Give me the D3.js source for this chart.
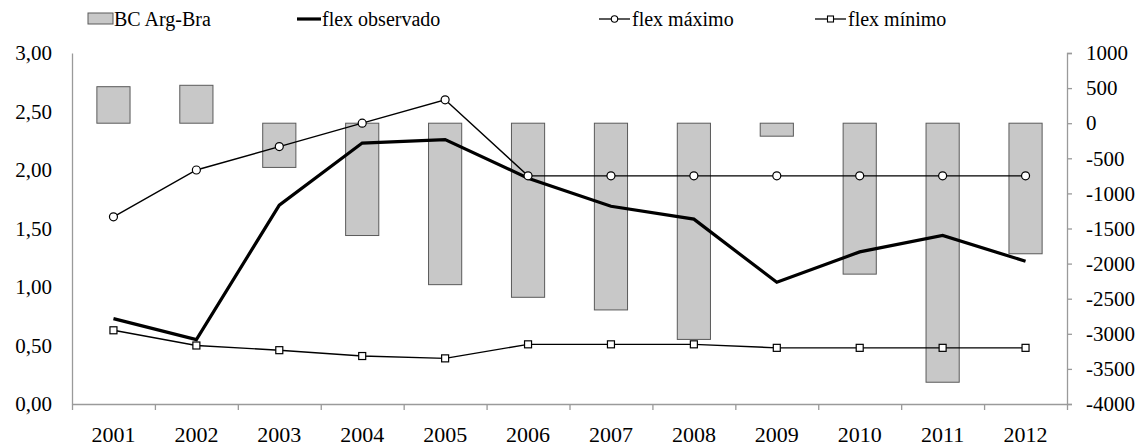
<!DOCTYPE html>
<html>
<head>
<meta charset="utf-8">
<script src="https://cdn.jsdelivr.net/npm/d3@7"></script>
<style>
  body { margin: 0; background: #fff; }
  svg text { font-family: "Liberation Serif", "Times New Roman", serif; font-size: 20px; fill: #000; }
</style>
</head>
<body>
<svg width="1145" height="446"></svg>
<script>
// chart data
var years = ["2001", "2002", "2003", "2004", "2005", "2006", "2007", "2008", "2009", "2010", "2011", "2012"];
var bcArgBra = [520, 540, -630, -1600, -2300, -2480, -2660, -3080, -185, -2150, -3690, -1860];
var flexObservado = [0.73, 0.55, 1.70, 2.23, 2.26, 1.93, 1.69, 1.58, 1.04, 1.30, 1.44, 1.22];
var flexMaximo = [1.60, 2.00, 2.20, 2.40, 2.60, 1.95, 1.95, 1.95, 1.95, 1.95, 1.95, 1.95];
var flexMinimo = [0.63, 0.50, 0.46, 0.41, 0.39, 0.51, 0.51, 0.51, 0.48, 0.48, 0.48, 0.48];
var leftTicks = [0, 0.5, 1, 1.5, 2, 2.5, 3];
var rightTicks = [-4000, -3500, -3000, -2500, -2000, -1500, -1000, -500, 0, 500, 1000];
var legendLabels = ["BC Arg-Bra", "flex observado", "flex máximo", "flex mínimo"];

var svg = d3.select("svg");
var plotLeft = 72, plotRight = 1067, plotTop = 53, plotBottom = 404;

var x = d3.scaleBand().domain(years).range([plotLeft, plotRight]);
var xi = d3.scaleLinear().domain([0, years.length]).range([plotLeft, plotRight]);
var yL = d3.scaleLinear().domain([0, 3]).range([plotBottom, plotTop]);
var yR = d3.scaleLinear().domain([-4000, 1000]).range([plotBottom, plotTop]);
var axisColor = "#9a9a9a";

// bars (right axis)
var barW = x.bandwidth() * 0.4;
svg.append("g").selectAll("rect")
  .data(bcArgBra)
  .enter().append("rect")
  .attr("x", function(d, i) { return x(years[i]) + (x.bandwidth() - barW) / 2; })
  .attr("y", function(d) { return yR(Math.max(0, d)); })
  .attr("width", barW)
  .attr("height", function(d) { return Math.abs(yR(d) - yR(0)); })
  .attr("fill", "#c8c8c8")
  .attr("stroke", "#5a5a5a")
  .attr("stroke-width", 1);

// axes
var gL = svg.append("g")
  .attr("transform", "translate(" + plotLeft + ",0)")
  .call(d3.axisLeft(yL).tickValues(leftTicks).tickSize(0).tickPadding(20)
    .tickFormat(function(d) { return d3.format(".2f")(d).replace(".", ","); }));
var gR = svg.append("g")
  .attr("transform", "translate(" + plotRight + ",0)")
  .call(d3.axisRight(yR).tickValues(rightTicks).tickSize(5).tickPadding(14)
    .tickFormat(function(d) { return String(d); }));
var gB = svg.append("g")
  .attr("transform", "translate(0," + plotBottom + ")")
  .call(d3.axisBottom(x).tickSize(0).tickPadding(22));
var gT = svg.append("g")
  .attr("transform", "translate(0," + plotBottom + ")")
  .call(d3.axisBottom(xi).tickValues(d3.range(0, years.length + 1)).tickSize(6).tickSizeOuter(0).tickFormat(""));

[gL, gR, gB, gT].forEach(function(g) {
  g.selectAll("path, line").attr("stroke", axisColor).attr("stroke-width", 1.3);
  g.selectAll("text").style("font-size", "21px").style("font-family", "Liberation Serif").attr("fill", "#000");
});
gB.select("path").remove();
gB.selectAll("text").style("font-size", "22px");
gR.selectAll("text").attr("text-anchor", "start");

// lines
function lineFor(values) {
  return d3.line()
    .x(function(d, i) { return x(years[i]) + x.bandwidth() / 2; })
    .y(function(d) { return yL(d); })(values);
}

svg.append("path").attr("d", lineFor(flexMaximo))
  .attr("fill", "none").attr("stroke", "#000").attr("stroke-width", 1.4);
svg.append("path").attr("d", lineFor(flexMinimo))
  .attr("fill", "none").attr("stroke", "#000").attr("stroke-width", 1.4);
svg.append("path").attr("d", lineFor(flexObservado))
  .attr("fill", "none").attr("stroke", "#000").attr("stroke-width", 3.2);

svg.append("g").selectAll("circle")
  .data(flexMaximo)
  .enter().append("circle")
  .attr("cx", function(d, i) { return x(years[i]) + x.bandwidth() / 2; })
  .attr("cy", function(d) { return yL(d); })
  .attr("r", 4)
  .attr("fill", "#fff").attr("stroke", "#000").attr("stroke-width", 1.2);

svg.append("g").selectAll("rect")
  .data(flexMinimo)
  .enter().append("rect")
  .attr("x", function(d, i) { return x(years[i]) + x.bandwidth() / 2 - 3.5; })
  .attr("y", function(d) { return yL(d) - 3.5; })
  .attr("width", 7).attr("height", 7)
  .attr("fill", "#fff").attr("stroke", "#000").attr("stroke-width", 1.2);

// legend
var lg = svg.append("g");
var ly = 19;
lg.append("rect").attr("x", 88).attr("y", 13).attr("width", 25).attr("height", 11)
  .attr("fill", "#c8c8c8").attr("stroke", "#5a5a5a");
lg.append("text").attr("x", 114).attr("y", ly + 7).text(legendLabels[0]);

lg.append("line").attr("x1", 297).attr("x2", 321).attr("y1", ly).attr("y2", ly)
  .attr("stroke", "#000").attr("stroke-width", 3.2);
lg.append("text").attr("x", 322).attr("y", ly + 7).text(legendLabels[1]);

lg.append("line").attr("x1", 599).attr("x2", 630).attr("y1", ly).attr("y2", ly)
  .attr("stroke", "#000").attr("stroke-width", 1.3);
lg.append("circle").attr("cx", 614.5).attr("cy", ly).attr("r", 3.2)
  .attr("fill", "#fff").attr("stroke", "#000").attr("stroke-width", 1.1);
lg.append("text").attr("x", 632).attr("y", ly + 7).text(legendLabels[2]);

lg.append("line").attr("x1", 815).attr("x2", 846).attr("y1", ly).attr("y2", ly)
  .attr("stroke", "#000").attr("stroke-width", 1.3);
lg.append("rect").attr("x", 827.5).attr("y", ly - 3).attr("width", 6).attr("height", 6)
  .attr("fill", "#fff").attr("stroke", "#000").attr("stroke-width", 1.1);
lg.append("text").attr("x", 848).attr("y", ly + 7).text(legendLabels[3]);
</script>
</body>
</html>
